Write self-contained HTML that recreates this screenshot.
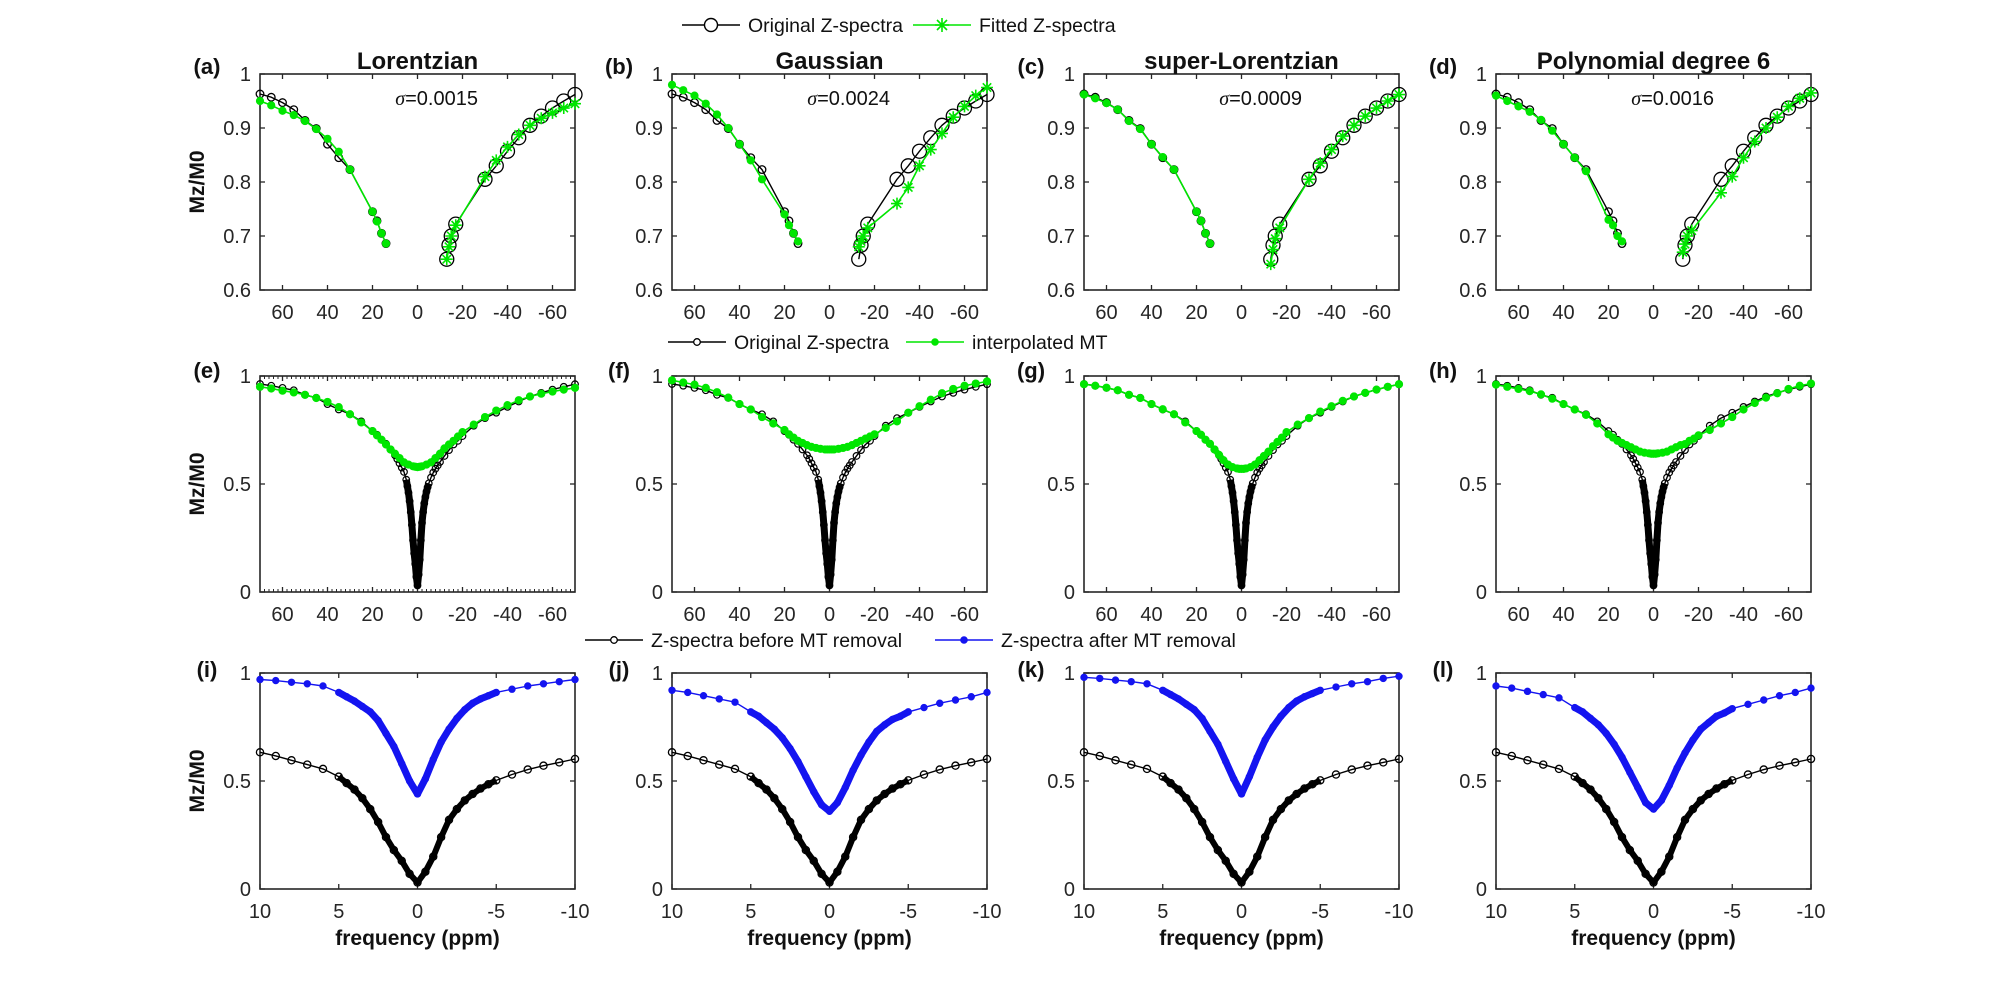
<!DOCTYPE html>
<html><head><meta charset="utf-8"><title>Z-spectra MT fitting</title>
<style>
html,body{margin:0;padding:0;background:#fff;}
svg{display:block;font-family:"Liberation Sans",Arial,sans-serif;}
</style></head>
<body>
<svg id="fig" width="2000" height="1000" viewBox="0 0 2000 1000" xmlns="http://www.w3.org/2000/svg"></svg>
<script>
// ---------- data ----------
const panelLabels = ["(a)","(b)","(c)","(d)","(e)","(f)","(g)","(h)","(i)","(j)","(k)","(l)"];
const colTitles = ["Lorentzian","Gaussian","super-Lorentzian","Polynomial degree 6"];
const sigmaLabels = ["0.0015","0.0024","0.0009","0.0016"];

// Row 1 (a-d): offsets in ppm
const r1LeftX = [70,65,60,55,50,45,40,35,30,20,18,16,14];
const r1RightX = [-13,-14,-15,-17,-30,-35,-40,-45,-50,-55,-60,-65,-70];
const r1OrigLeft = [0.963,0.957,0.947,0.934,0.914,0.899,0.870,0.845,0.823,0.745,0.728,0.705,0.686];
const r1OrigRight = [0.657,0.683,0.700,0.722,0.805,0.830,0.857,0.882,0.905,0.922,0.937,0.950,0.962];
const fitLeftA = [0.950,0.942,0.932,0.924,0.913,0.898,0.880,0.856,0.823,0.745,0.727,0.705,0.686];
const fitRightA = [0.657,0.680,0.700,0.720,0.810,0.840,0.865,0.888,0.905,0.918,0.928,0.937,0.945];
const fitLeftB = [0.980,0.970,0.960,0.945,0.925,0.900,0.870,0.840,0.805,0.740,0.720,0.705,0.690];
const fitRightB = [0.680,0.690,0.700,0.715,0.760,0.790,0.830,0.860,0.890,0.920,0.940,0.960,0.975];
const fitLeftC = [0.962,0.955,0.946,0.934,0.913,0.898,0.870,0.846,0.823,0.745,0.728,0.705,0.686];
const fitRightC = [0.648,0.675,0.695,0.715,0.805,0.835,0.860,0.885,0.905,0.922,0.937,0.950,0.962];
const fitLeftD = [0.960,0.950,0.940,0.930,0.915,0.895,0.870,0.845,0.820,0.730,0.720,0.700,0.690];
const fitRightD = [0.670,0.685,0.700,0.710,0.780,0.810,0.845,0.875,0.900,0.920,0.940,0.955,0.965];

// Row 2 (e-h)
const r2OrigX = [70,65,60,55,50,45,40,35,30,25,20,18,16,14,12,10,9,8,7,6,5,4.5,4,3.5,3,2.5,2,1.5,1,0.5,0,-0.5,-1,-1.5,-2,-2.5,-3,-3.5,-4,-4.5,-5,-6,-7,-8,-9,-10,-12,-14,-16,-18,-20,-25,-30,-35,-40,-45,-50,-55,-60,-65,-70];
const r2OrigY = [0.963,0.955,0.945,0.934,0.913,0.899,0.870,0.845,0.823,0.790,0.745,0.728,0.705,0.686,0.660,0.633,0.616,0.596,0.576,0.556,0.520,0.490,0.460,0.420,0.370,0.310,0.240,0.180,0.130,0.070,0.030,0.080,0.150,0.240,0.320,0.370,0.410,0.440,0.465,0.485,0.503,0.530,0.553,0.571,0.586,0.602,0.630,0.657,0.683,0.700,0.722,0.770,0.805,0.830,0.857,0.882,0.905,0.922,0.937,0.950,0.962];
const r2MtX = [70,65,60,55,50,45,40,35,30,25,20,18,16,14,12,10,8,6,4,2,1,0,-1,-2,-4,-6,-8,-10,-12,-14,-16,-18,-20,-25,-30,-35,-40,-45,-50,-55,-60,-65,-70];
const mtE = [0.950,0.942,0.932,0.924,0.913,0.898,0.880,0.856,0.823,0.785,0.745,0.725,0.705,0.683,0.660,0.640,0.620,0.600,0.590,0.582,0.580,0.578,0.580,0.582,0.590,0.600,0.620,0.640,0.665,0.683,0.700,0.720,0.740,0.775,0.810,0.840,0.865,0.888,0.905,0.918,0.928,0.937,0.945];
const mtF = [0.980,0.970,0.960,0.945,0.925,0.900,0.870,0.845,0.810,0.780,0.750,0.730,0.715,0.700,0.690,0.680,0.672,0.667,0.663,0.660,0.660,0.660,0.660,0.660,0.663,0.667,0.672,0.680,0.690,0.700,0.710,0.720,0.730,0.760,0.790,0.830,0.860,0.890,0.920,0.940,0.955,0.965,0.975];
const mtG = [0.962,0.955,0.946,0.934,0.913,0.898,0.870,0.846,0.823,0.785,0.745,0.728,0.705,0.686,0.660,0.635,0.610,0.590,0.578,0.572,0.570,0.570,0.570,0.572,0.578,0.590,0.610,0.630,0.650,0.675,0.695,0.715,0.740,0.775,0.805,0.835,0.860,0.885,0.905,0.922,0.937,0.950,0.962];
const mtH = [0.960,0.950,0.940,0.930,0.915,0.895,0.870,0.845,0.820,0.780,0.730,0.715,0.700,0.690,0.680,0.670,0.660,0.650,0.645,0.642,0.640,0.640,0.640,0.642,0.645,0.650,0.660,0.670,0.680,0.685,0.700,0.710,0.725,0.750,0.780,0.810,0.845,0.875,0.900,0.920,0.940,0.955,0.965];

// Row 3 (i-l)
const r3X = [10,9,8,7,6,5,4.5,4,3.5,3,2.5,2,1.5,1,0.5,0,-0.5,-1,-1.5,-2,-2.5,-3,-3.5,-4,-4.5,-5,-6,-7,-8,-9,-10];
const beforeY = [0.633,0.616,0.596,0.576,0.556,0.520,0.490,0.460,0.420,0.370,0.310,0.240,0.180,0.130,0.070,0.030,0.080,0.150,0.240,0.320,0.370,0.410,0.440,0.465,0.485,0.503,0.530,0.553,0.571,0.586,0.602];
const afterI = [0.970,0.965,0.957,0.950,0.940,0.910,0.890,0.870,0.845,0.820,0.780,0.720,0.660,0.580,0.500,0.440,0.510,0.600,0.680,0.740,0.790,0.830,0.860,0.880,0.895,0.910,0.925,0.940,0.950,0.960,0.970];
const afterJ = [0.920,0.910,0.895,0.880,0.865,0.820,0.800,0.770,0.740,0.700,0.650,0.590,0.520,0.450,0.390,0.360,0.400,0.470,0.550,0.620,0.680,0.730,0.760,0.785,0.800,0.820,0.840,0.860,0.875,0.890,0.910];
const afterK = [0.980,0.975,0.967,0.960,0.950,0.920,0.900,0.880,0.855,0.830,0.790,0.730,0.670,0.590,0.510,0.440,0.520,0.610,0.690,0.750,0.800,0.840,0.870,0.890,0.905,0.920,0.935,0.950,0.960,0.975,0.985];
const afterL = [0.940,0.930,0.915,0.900,0.885,0.840,0.820,0.790,0.760,0.720,0.670,0.610,0.540,0.470,0.400,0.370,0.410,0.480,0.560,0.630,0.690,0.740,0.770,0.800,0.815,0.835,0.855,0.875,0.895,0.910,0.930];

const r1XTicks = [60,40,20,0,-20,-40,-60];
const r1YTicks = [0.6,0.7,0.8,0.9,1];
const r2YTicks = [0,0.5,1];
const r3XTicks = [10,5,0,-5,-10];

// ---------- layout ----------
const svg = document.getElementById('fig');
const NS = "http://www.w3.org/2000/svg";
const colLeft = [260,672,1084,1496];
const rowTop = [74,376,673];
const W = 315, H = 216;
const AX = "#262626";
const GREEN = "#00e600", BLUE = "#1414f0";

function mk(tag, parent){ const e = document.createElementNS(NS, tag); (parent||svg).appendChild(e); return e; }
function attrs(e, o){ for (const k in o) e.setAttribute(k, o[k]); return e; }

function makeAxis(ci, ri, xmin, xmax, ymin, ymax){
  const L = colLeft[ci], T = rowTop[ri];
  return {
    L, T,
    sx: v => L + (xmax - v) / (xmax - xmin) * W,
    sy: v => T + H - (v - ymin) / (ymax - ymin) * H
  };
}

function drawFrame(g, ax, xt, yt, xfmt, yfmt, name){
  const box = mk('rect', g);
  attrs(box, {x: ax.L, y: ax.T, width: W, height: H, fill: 'none', stroke: AX, 'stroke-width': 1.6});
  
  
  xt.forEach(v => {
    const x = ax.sx(v);
    const t1 = mk('line', g); attrs(t1, {x1: x, x2: x, y1: ax.T + H, y2: ax.T + H - 5, stroke: AX, 'stroke-width': 1.3});
    
    
    const t2 = mk('line', g); attrs(t2, {x1: x, x2: x, y1: ax.T, y2: ax.T + 5, stroke: AX, 'stroke-width': 1.3});
    
    
    const tx = mk('text', g); attrs(tx, {x: x, y: ax.T + H + 29, 'text-anchor': 'middle', 'font-size': 20, fill: AX});
    tx.textContent = xfmt(v);
    
    
  });
  yt.forEach(v => {
    const y = ax.sy(v);
    const t1 = mk('line', g); attrs(t1, {x1: ax.L, x2: ax.L + 5, y1: y, y2: y, stroke: AX, 'stroke-width': 1.3});
    
    
    const t2 = mk('line', g); attrs(t2, {x1: ax.L + W, x2: ax.L + W - 5, y1: y, y2: y, stroke: AX, 'stroke-width': 1.3});
    
    
    const ty = mk('text', g); attrs(ty, {x: ax.L - 9, y: y + 7, 'text-anchor': 'end', 'font-size': 20, fill: AX});
    ty.textContent = yfmt(v);
    
    
  });
}

function polyline(g, ax, xs, ys, color, width, name){
  const p = mk('polyline', g);
  attrs(p, {points: xs.map((x, i) => ax.sx(x).toFixed(1) + ',' + ax.sy(ys[i]).toFixed(1)).join(' '), fill: 'none', stroke: color, 'stroke-width': width, 'stroke-linejoin': 'round'});
  
  
  return p;
}
function circles(g, ax, xs, ys, r, stroke, fill, sw, name){
  xs.forEach((x, i) => {
    const c = mk('circle', g);
    attrs(c, {cx: ax.sx(x), cy: ax.sy(ys[i]), r: r, fill: fill, stroke: stroke, 'stroke-width': sw});
    
    
  });
}
function stars(g, ax, xs, ys, s, color, name){
  xs.forEach((x, i) => {
    const cx = ax.sx(x), cy = ax.sy(ys[i]);
    const p = mk('path', g);
    const d = s * 0.7;
    attrs(p, {d: `M${cx - s},${cy}H${cx + s}M${cx},${cy - s}V${cy + s}M${cx - d},${cy - d}L${cx + d},${cy + d}M${cx - d},${cy + d}L${cx + d},${cy - d}`, stroke: color, 'stroke-width': 1.6, fill: 'none'});
    
    
  });
}
function label(g, txt, x, y, size, weight, anchor, name){
  const t = mk('text', g);
  attrs(t, {x: x, y: y, 'font-size': size, 'font-weight': weight, 'text-anchor': anchor, fill: '#111'});
  t.textContent = txt;
  
  
  return t;
}
function yLabel(g, ax){
  const t = mk('text', g);
  const cx = ax.L - 63, cy = ax.T + H / 2;
  attrs(t, {x: cx, y: cy, 'font-size': 21, 'font-weight': 'bold', 'text-anchor': 'middle', fill: '#111', transform: `rotate(-90 ${cx} ${cy})`, dy: 7});
  t.textContent = 'Mz/M0';
  
  
}
function isDense(x){ return Math.abs(x) <= 5; }

// ---------- row 1 ----------
const fitsLeft = [fitLeftA, fitLeftB, fitLeftC, fitLeftD];
const fitsRight = [fitRightA, fitRightB, fitRightC, fitRightD];
for (let c = 0; c < 4; c++) {
  const g = mk('g');
  
  
  const ax = makeAxis(c, 0, -70, 70, 0.6, 1);
  drawFrame(g, ax, r1XTicks, r1YTicks, v => String(v), v => (v === 1 ? '1' : v.toFixed(1)), 'row1');
  polyline(g, ax, r1LeftX, r1OrigLeft, '#000', 1.4, 'original-line-left');
  polyline(g, ax, r1RightX, r1OrigRight, '#000', 1.4, 'original-line-right');
  circles(g, ax, r1LeftX, r1OrigLeft, 3.8, '#000', 'none', 1.3, 'original-marker');
  circles(g, ax, r1RightX, r1OrigRight, 7, '#000', 'none', 1.3, 'original-marker-large');
  polyline(g, ax, r1LeftX, fitsLeft[c], GREEN, 1.6, 'fitted-line-left');
  polyline(g, ax, r1RightX, fitsRight[c], GREEN, 1.6, 'fitted-line-right');
  circles(g, ax, r1LeftX, fitsLeft[c], 3.6, GREEN, GREEN, 1, 'fitted-marker');
  stars(g, ax, r1RightX, fitsRight[c], 6, GREEN, 'fitted-star-marker');
  label(g, panelLabels[c], ax.L - 53, ax.T - 0, 22, 'bold', 'middle', 'panel-label');
  label(g, colTitles[c], ax.L + W / 2, ax.T - 5, 24, 'bold', 'middle', 'panel-title');
  const s = mk('text', g);
  attrs(s, {x: ax.sx(-8.5), y: ax.sy(0.956) + 7, 'font-size': 20, 'text-anchor': 'middle', fill: '#111'});
  s.innerHTML = '<tspan font-style="italic" font-family="Liberation Serif, serif">σ</tspan>=' + sigmaLabels[c];
  
  
  if (c === 0) yLabel(g, ax);
}

// ---------- row 2 ----------
const mts = [mtE, mtF, mtG, mtH];
for (let c = 0; c < 4; c++) {
  const g = mk('g');
  
  
  const ax = makeAxis(c, 1, -70, 70, 0, 1);
  drawFrame(g, ax, r1XTicks, r2YTicks, v => String(v), v => String(v), 'row2');
  if (c === 0) {
    for (let v = -70; v <= 70; v += 2) {
      const x = ax.sx(v);
      const m1 = mk('line', g); attrs(m1, {x1: x, x2: x, y1: ax.T + H, y2: ax.T + H - 3, stroke: AX, 'stroke-width': 1});
      
      
      const m2 = mk('line', g); attrs(m2, {x1: x, x2: x, y1: ax.T, y2: ax.T + 3, stroke: AX, 'stroke-width': 1});
      
      
    }
  }
  polyline(g, ax, r2OrigX, r2OrigY, '#000', 1.4, 'original-line');
  const dX = r2OrigX.filter(isDense), dY = r2OrigY.filter((v, i) => isDense(r2OrigX[i]));
  polyline(g, ax, dX, dY, '#000', 7, 'original-dense-band');
  circles(g, ax, r2OrigX, r2OrigY, 3.3, '#000', 'none', 1.2, 'original-marker');
  polyline(g, ax, r2MtX, mts[c], GREEN, 1.6, 'mt-line');
  const gX = r2MtX.filter(v => Math.abs(v) <= 12), gY = mts[c].filter((v, i) => Math.abs(r2MtX[i]) <= 12);
  polyline(g, ax, gX, gY, GREEN, 6, 'mt-dense-band');
  circles(g, ax, r2MtX, mts[c], 3.6, GREEN, GREEN, 1, 'mt-marker');
  label(g, panelLabels[4 + c], ax.L - 53, ax.T + 2, 22, 'bold', 'middle', 'panel-label');
  if (c === 0) yLabel(g, ax);
}

// ---------- row 3 ----------
const afters = [afterI, afterJ, afterK, afterL];
for (let c = 0; c < 4; c++) {
  const g = mk('g');
  
  
  const ax = makeAxis(c, 2, -10, 10, 0, 1);
  drawFrame(g, ax, r3XTicks, r2YTicks, v => String(v), v => String(v), 'row3');
  polyline(g, ax, r3X, beforeY, '#000', 1.4, 'before-line');
  const dX = r3X.filter(isDense), dB = beforeY.filter((v, i) => isDense(r3X[i]));
  polyline(g, ax, dX, dB, '#000', 6, 'before-dense-band');
  circles(g, ax, r3X, beforeY, 3.6, '#000', 'none', 1.3, 'before-marker');
  polyline(g, ax, r3X, afters[c], BLUE, 1.4, 'after-line');
  const dA = afters[c].filter((v, i) => isDense(r3X[i]));
  polyline(g, ax, dX, dA, BLUE, 7, 'after-dense-band');
  circles(g, ax, r3X, afters[c], 3.2, BLUE, BLUE, 1, 'after-marker');
  label(g, panelLabels[8 + c], ax.L - 53, ax.T + 4, 22, 'bold', 'middle', 'panel-label');
  label(g, 'frequency (ppm)', ax.L + W / 2, ax.T + H + 56, 21, 'bold', 'middle', 'x-axis-title');
  if (c === 0) yLabel(g, ax);
}

// ---------- legends ----------
function legendEntry(x0, y, color, marker, text, name){
  const g = mk('g');
  
  
  const l = mk('line', g); attrs(l, {x1: x0, x2: x0 + 58, y1: y, y2: y, stroke: color, 'stroke-width': 1.6});
  const mx = x0 + 29;
  if (marker === 'circleL') { const c = mk('circle', g); attrs(c, {cx: mx, cy: y, r: 6.5, fill: '#fff', stroke: color, 'stroke-width': 1.4}); }
  if (marker === 'circleS') { const c = mk('circle', g); attrs(c, {cx: mx, cy: y, r: 3.3, fill: '#fff', stroke: color, 'stroke-width': 1.3}); }
  if (marker === 'dot') { const c = mk('circle', g); attrs(c, {cx: mx, cy: y, r: 3.3, fill: color, stroke: color}); }
  if (marker === 'star') {
    const p = mk('path', g);
    attrs(p, {d: `M${mx - 7},${y}H${mx + 7}M${mx},${y - 7}V${y + 7}M${mx - 5},${y - 5}L${mx + 5},${y + 5}M${mx - 5},${y + 5}L${mx + 5},${y - 5}`, stroke: color, 'stroke-width': 1.6});
  }
  const t = mk('text', g); attrs(t, {x: x0 + 66, y: y + 7, 'font-size': 19.5, fill: '#111'});
  t.textContent = text;
}
legendEntry(682, 25, '#000', 'circleL', 'Original Z-spectra', 'legend-entry-original');
legendEntry(913, 25, GREEN, 'star', 'Fitted Z-spectra', 'legend-entry-fitted');
legendEntry(668, 342, '#000', 'circleS', 'Original Z-spectra', 'legend-entry-original-row2');
legendEntry(906, 342, GREEN, 'dot', 'interpolated MT', 'legend-entry-interpolated-mt');
legendEntry(585, 640, '#000', 'circleS', 'Z-spectra before MT removal', 'legend-entry-before-mt');
legendEntry(935, 640, BLUE, 'dot', 'Z-spectra after MT removal', 'legend-entry-after-mt');
</script>
</body></html>
